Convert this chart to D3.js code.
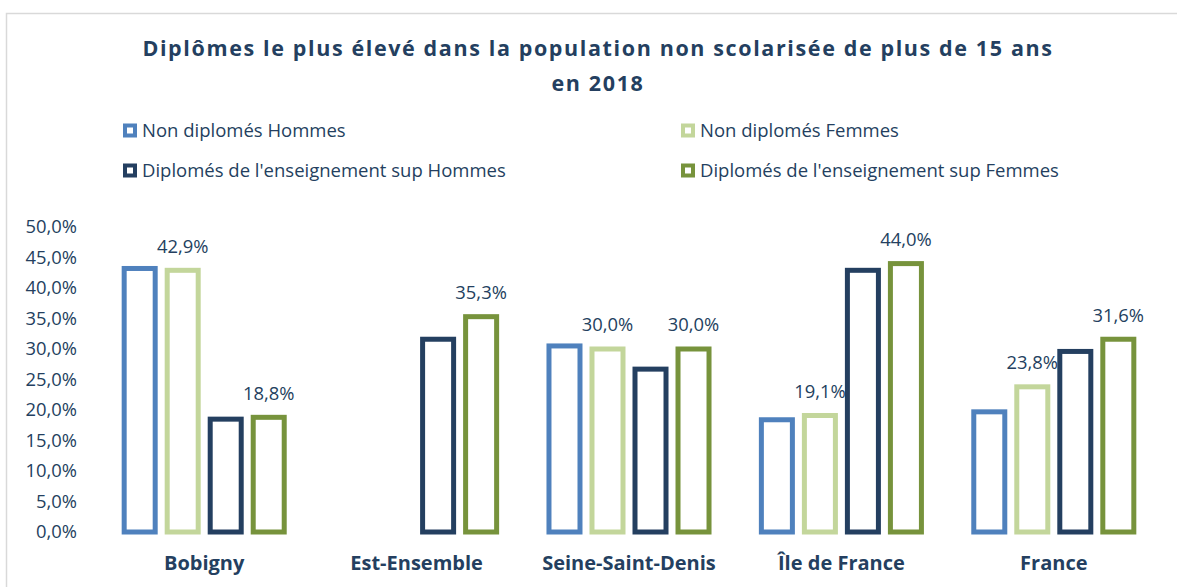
<!DOCTYPE html>
<html>
<head>
<meta charset="utf-8">
<script src="https://cdn.jsdelivr.net/npm/d3@7"></script>
<style>
  body { margin: 0; background: #fff; }
  text { font-family: "Open Sans", sans-serif; fill: #243F60; }
</style>
</head>
<body>
<svg id="chart"></svg>
<script>
var categories = ["Bobigny", "Est-Ensemble", "Seine-Saint-Denis", "Île de France", "France"];
var series = ["Non diplomés Hommes", "Non diplomés Femmes", "Diplomés de l'enseignement sup Hommes", "Diplomés de l'enseignement sup Femmes"];
var colors = ["#4F81BD", "#C3D69B", "#243F60", "#77933C"];
// values in %, null where no bar is drawn
var nonDipHommes = [43.2, null, 30.5, 18.4, 19.7];
var nonDipFemmes = [42.9, null, 30.0, 19.1, 23.8];
var supHommes    = [18.5, 31.6, 26.7, 42.9, 29.6];
var supFemmes    = [18.8, 35.3, 30.0, 44.0, 31.6];
var values = [nonDipHommes, nonDipFemmes, supHommes, supFemmes];
var labelled = [false, true, false, true];
var yTicks = [0, 5, 10, 15, 20, 25, 30, 35, 40, 45, 50];

var width = 1177, height = 587;
var svg = d3.select("#chart").attr("width", width).attr("height", height);

svg.append("rect")
    .attr("x", 6.5).attr("y", 13.5)
    .attr("width", 1200).attr("height", 620)
    .attr("fill", "#fff")
    .attr("stroke", "#D9D9D9")
    .attr("stroke-width", 1.5);

// title
var title = svg.append("text")
    .attr("x", 598)
    .attr("text-anchor", "middle")
    .attr("font-size", "21.5px")
    .attr("font-weight", "bold")
    .style("letter-spacing", "1.62px");
title.append("tspan").attr("x", 598).attr("y", 56).text("Diplômes le plus élevé dans la population non scolarisée de plus de 15 ans");
title.append("tspan").attr("x", 598).attr("y", 91).text("en 2018");

// legend
var legendPos = [[123, 131], [681, 131], [123, 171], [681, 171]];
var legend = svg.selectAll(".legend")
    .data(series)
    .enter().append("g")
    .classed("legend", true)
    .attr("transform", (d, i) => "translate(" + legendPos[i][0] + "," + legendPos[i][1] + ")");
legend.append("rect")
    .attr("x", 2).attr("y", -5.5)
    .attr("width", 10).attr("height", 10)
    .attr("fill", "#fff")
    .attr("stroke", (d, i) => colors[i])
    .attr("stroke-width", 4);
legend.append("text")
    .attr("x", 19)
    .attr("dy", "0.35em")
    .attr("font-size", "18.5px")
    .text(d => d);

// scales
var fmt = d3.formatLocale({decimal: ",", thousands: " ", grouping: [3], currency: ["", "€"]}).format(".1f");
var y = d3.scaleLinear().domain([0, 50]).range([532, 227]);
var x0 = d3.scaleBand().domain(categories).range([98, 1160]).paddingInner(0.19).paddingOuter(0.095);
var x1 = d3.scaleBand().domain(d3.range(series.length)).range([0, x0.bandwidth()]);
var strokeW = 5, gap = 7;

var yAxis = svg.append("g")
    .attr("transform", "translate(80,0)")
    .call(d3.axisLeft(y).tickValues(yTicks).tickSize(0).tickPadding(3).tickFormat(d => fmt(d) + "%"));
yAxis.select(".domain").remove();
yAxis.selectAll("text")
    .attr("font-size", "18.4px")
    .attr("font-family", "'Open Sans', sans-serif")
    .attr("fill", "#243F60");

// bars
var rows = [];
categories.forEach((c, ci) => {
    values.forEach((s, si) => {
        if (s[ci] !== null) rows.push({cat: c, s: si, v: s[ci]});
    });
});

var groups = svg.append("g");
groups.selectAll(".bar")
    .data(rows)
    .enter().append("rect")
    .classed("bar", true)
    .attr("x", d => x0(d.cat) + x1(d.s) + gap / 2 + strokeW / 2)
    .attr("width", x1.bandwidth() - gap - strokeW)
    .attr("y", d => y(d.v))
    .attr("height", d => y(0) - y(d.v))
    .attr("fill", "#fff")
    .attr("stroke", d => colors[d.s])
    .attr("stroke-width", strokeW);

groups.selectAll(".lbl")
    .data(rows.filter(d => labelled[d.s]))
    .enter().append("text")
    .classed("lbl", true)
    .attr("x", d => x0(d.cat) + x1(d.s) + x1.bandwidth() / 2)
    .attr("y", d => y(d.v) - 24)
    .attr("dy", "0.35em")
    .attr("text-anchor", "middle")
    .attr("font-size", "18.4px")
    .text(d => fmt(d.v) + "%");

// category labels
svg.selectAll(".cat")
    .data(categories)
    .enter().append("text")
    .classed("cat", true)
    .attr("x", d => x0(d) + x0.bandwidth() / 2)
    .attr("y", 563)
    .attr("dy", "0.35em")
    .attr("text-anchor", "middle")
    .attr("font-size", "20px")
    .attr("font-weight", "bold")
    .text(d => d);
</script>
</body>
</html>
